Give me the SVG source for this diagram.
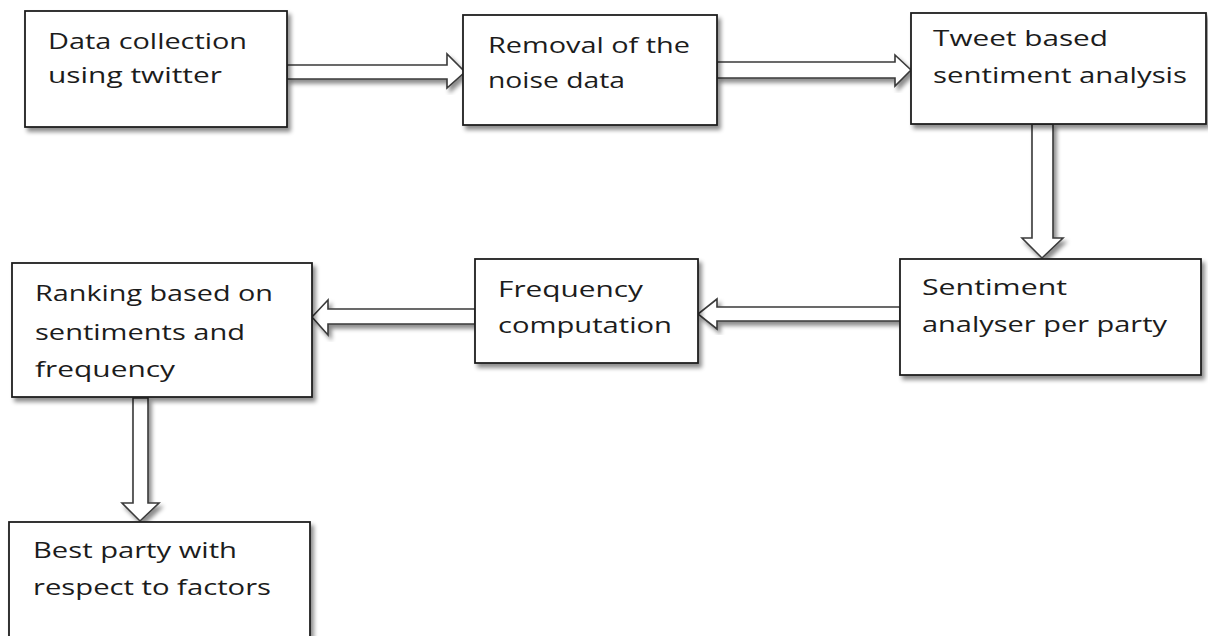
<svg xmlns="http://www.w3.org/2000/svg" width="1208" height="636" viewBox="0 0 1208 636">
  <defs>
    <filter id="shadow" x="-10%" y="-10%" width="130%" height="130%">
      <feDropShadow dx="3" dy="4" stdDeviation="2.2" flood-color="#000" flood-opacity="0.45"/>
    </filter>
    <style>
      .box { fill: #ffffff; stroke: #1e1e1e; stroke-width: 1.8; filter: url(#shadow); }
      .label { font-family: "Open Sans", "Liberation Sans", Arial, sans-serif; font-size: 22px; fill: #1c1c1c; }
      .arrow { fill: #ffffff; stroke: #3a3a3a; stroke-width: 1.6; stroke-linejoin: miter; filter: url(#shadow); }
    </style>
  </defs>
  <rect width="1208" height="636" fill="#ffffff"/>

  <!-- block arrows between steps -->
  <g id="connectors">
    <polygon class="arrow" points="287,65 447,65 447,54 465,72 447,88 447,79 287,79"/>
    <polygon class="arrow" points="717,62 895,62 895,55 911,70 895,86 895,78 717,78"/>
    <polygon class="arrow" points="1032,124 1053,124 1053,238 1063,238 1042,258 1022,238 1032,238"/>
    <polygon class="arrow" points="900,307 717,307 717,299 698,314 717,329 717,321 900,321"/>
    <polygon class="arrow" points="475,309 328,309 328,300 312,317 328,335 328,324 475,324"/>
    <polygon class="arrow" points="133,398 148,398 148,503 159,503 140,521 122,503 133,503"/>
  </g>

  <g id="data-collection">
    <rect class="box" x="25" y="11" width="262" height="116"/>
    <text class="label" x="48" y="49" textLength="199" lengthAdjust="spacingAndGlyphs">Data collection</text>
    <text class="label" x="48" y="83" textLength="174" lengthAdjust="spacingAndGlyphs">using twitter</text>
  </g>

  <g id="noise-removal">
    <rect class="box" x="463" y="15" width="254" height="110"/>
    <text class="label" x="488" y="53" textLength="202" lengthAdjust="spacingAndGlyphs">Removal of the</text>
    <text class="label" x="488" y="88" textLength="137" lengthAdjust="spacingAndGlyphs">noise data</text>
  </g>

  <g id="tweet-sentiment">
    <rect class="box" x="911" y="13" width="295" height="111"/>
    <text class="label" x="933" y="46" textLength="175" lengthAdjust="spacingAndGlyphs">Tweet based</text>
    <text class="label" x="933" y="83" textLength="254" lengthAdjust="spacingAndGlyphs">sentiment analysis</text>
  </g>

  <g id="party-analyser">
    <rect class="box" x="900" y="259" width="301" height="116"/>
    <text class="label" x="922" y="295" textLength="145" lengthAdjust="spacingAndGlyphs">Sentiment</text>
    <text class="label" x="922" y="332" textLength="245" lengthAdjust="spacingAndGlyphs">analyser per party</text>
  </g>

  <g id="frequency">
    <rect class="box" x="475" y="259" width="223" height="104"/>
    <text class="label" x="498" y="297" textLength="145" lengthAdjust="spacingAndGlyphs">Frequency</text>
    <text class="label" x="498" y="333" textLength="174" lengthAdjust="spacingAndGlyphs">computation</text>
  </g>

  <g id="ranking">
    <rect class="box" x="12" y="263" width="300" height="134"/>
    <text class="label" x="35" y="301" textLength="238" lengthAdjust="spacingAndGlyphs">Ranking based on</text>
    <text class="label" x="35" y="340" textLength="210" lengthAdjust="spacingAndGlyphs">sentiments and</text>
    <text class="label" x="35" y="377" textLength="140" lengthAdjust="spacingAndGlyphs">frequency</text>
  </g>

  <g id="best-party">
    <rect class="box" x="9" y="522" width="301" height="130"/>
    <text class="label" x="33" y="558" textLength="204" lengthAdjust="spacingAndGlyphs">Best party with</text>
    <text class="label" x="33" y="595" textLength="238" lengthAdjust="spacingAndGlyphs">respect to factors</text>
  </g>
</svg>
